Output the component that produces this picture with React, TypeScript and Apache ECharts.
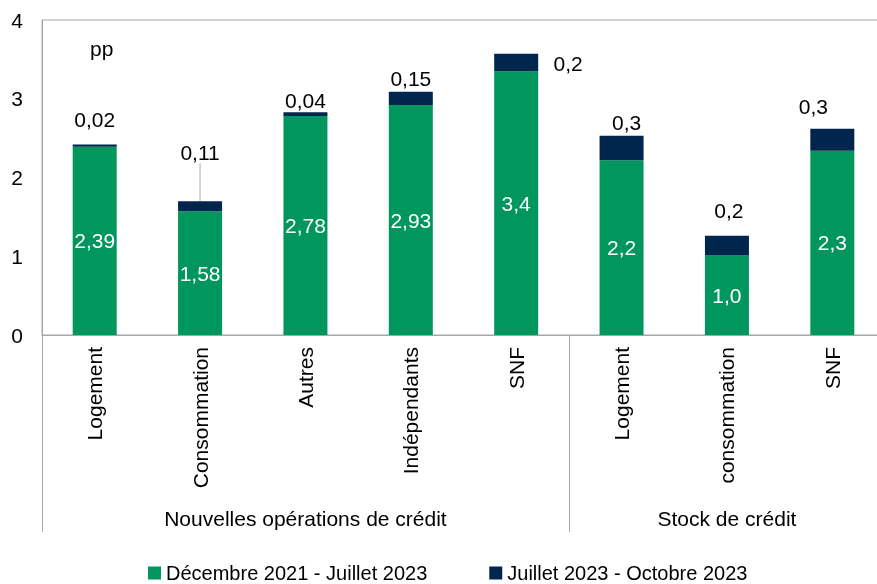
import React, { useEffect, useRef } from "react";
import * as echarts from "echarts";

const categories = [
  "Logement",
  "Consommation",
  "Autres",
  "Indépendants",
  "SNF",
  "Logement",
  "consommation",
  "SNF",
];
const groups = ["Nouvelles opérations de crédit", "Stock de crédit"];
const groupStart = [0, 5];
const groupEnd = [5, 8];

const seriesNames = ["Décembre 2021 - Juillet 2023", "Juillet 2023 - Octobre 2023"];
const periodA = [2.39, 1.57, 2.78, 2.92, 3.35, 2.22, 1.01, 2.34];
const periodB = [0.03, 0.13, 0.05, 0.17, 0.22, 0.31, 0.25, 0.28];
const labelsA = ["2,39", "1,58", "2,78", "2,93", "3,4", "2,2", "1,0", "2,3"];
const labelsB = ["0,02", "0,11", "0,04", "0,15", "0,2", "0,3", "0,2", "0,3"];
const yTicks = [0, 1, 2, 3, 4];

// label nudges (px) for the second series labels
const shiftX = [0, 0, 0, 0, 52, 5, 2, -19];
const shiftY = [-9, -33, 4, 2, 25, 2, -10, -7];
const guideLine = [false, true, false, false, false, false, false, false];

const FONT = "'Liberation Sans', Arial, sans-serif";
const GREEN = "#00965E";
const NAVY = "#00264D";
const AXIS = "#A6A6A6";

export default function App() {
  const ref = useRef<HTMLDivElement>(null);

  useEffect(() => {
    if (!ref.current) return;
    const chart = echarts.init(ref.current, undefined, { renderer: "svg" });

    const groupLabelAt = (v: number) => {
      for (let i = 0; i < groups.length; i++) {
        if (Math.abs((groupStart[i] + groupEnd[i]) / 2 - v) < 1e-6) return groups[i];
      }
      return "";
    };

    chart.setOption({
      animation: false,
      textStyle: { fontFamily: FONT, color: "#000" },
      grid: {
        left: 42,
        top: 20,
        width: 843,
        height: 315,
        show: true,
        borderColor: AXIS,
        borderWidth: 1,
        backgroundColor: "transparent",
      },
      legend: {
        data: seriesNames,
        left: 148,
        top: 563,
        padding: 0,
        icon: "rect",
        itemWidth: 13,
        itemHeight: 13,
        itemGap: 62,
        textStyle: { fontFamily: FONT, fontSize: 20, lineHeight: 17, color: "#000" },
      },
      graphic: [
        {
          type: "text",
          left: 90,
          top: 38,
          style: { text: "pp", fontFamily: FONT, fontSize: 21, fill: "#000" },
        },
      ],
      xAxis: [
        {
          type: "category",
          data: categories,
          axisLine: { show: true, lineStyle: { color: AXIS, width: 1 } },
          axisTick: {
            show: true,
            interval: (i: number) => groupStart.indexOf(i) >= 0,
            length: 197,
            lineStyle: { color: AXIS, width: 1 },
          },
          axisLabel: {
            rotate: 90,
            interval: 0,
            margin: 12,
            fontFamily: FONT,
            fontSize: 21,
            color: "#000",
          },
          splitLine: { show: false },
        },
        {
          type: "value",
          position: "bottom",
          min: 0,
          max: categories.length,
          interval: 0.5,
          axisLine: { show: false },
          axisTick: { show: false },
          splitLine: { show: false },
          axisLabel: {
            margin: 173,
            fontFamily: FONT,
            fontSize: 21,
            color: "#000",
            formatter: (v: number) => groupLabelAt(v),
          },
        },
      ],
      yAxis: {
        type: "value",
        min: 0,
        max: 4,
        interval: 1,
        axisLine: { show: true, lineStyle: { color: AXIS, width: 1 } },
        axisTick: { show: false },
        splitLine: { show: false },
        axisLabel: {
          margin: 19,
          fontFamily: FONT,
          fontSize: 21,
          color: "#000",
          formatter: (v: number) => (yTicks.indexOf(v) >= 0 ? String(v) : ""),
        },
      },
      series: [
        {
          name: seriesNames[0],
          type: "bar",
          stack: "total",
          xAxisIndex: 0,
          barWidth: 44,
          itemStyle: { color: GREEN },
          data: periodA,
          label: {
            show: true,
            position: "inside",
            color: "#fff",
            fontFamily: FONT,
            fontSize: 21,
            formatter: (p: any) => labelsA[p.dataIndex],
          },
        },
        {
          name: seriesNames[1],
          type: "bar",
          stack: "total",
          xAxisIndex: 0,
          barWidth: 44,
          itemStyle: { color: NAVY },
          data: periodB.map((v, i) => ({
            value: v,
            labelLine: { show: guideLine[i] },
          })),
          label: {
            show: true,
            position: "top",
            distance: 5,
            color: "#000",
            fontFamily: FONT,
            fontSize: 21,
            formatter: (p: any) => labelsB[p.dataIndex],
          },
          labelLine: {
            show: false,
            lineStyle: { color: "#C8C8C8", width: 1.5 },
          },
          labelLayout: (p: any) => ({
            dx: shiftX[p.dataIndex],
            dy: shiftY[p.dataIndex],
          }),
        },
      ],
    });

    return () => chart.dispose();
  }, []);

  return (
    <div
      ref={ref}
      style={{ position: "fixed", left: 0, top: 0, width: 920, height: 584 }}
    />
  );
}
